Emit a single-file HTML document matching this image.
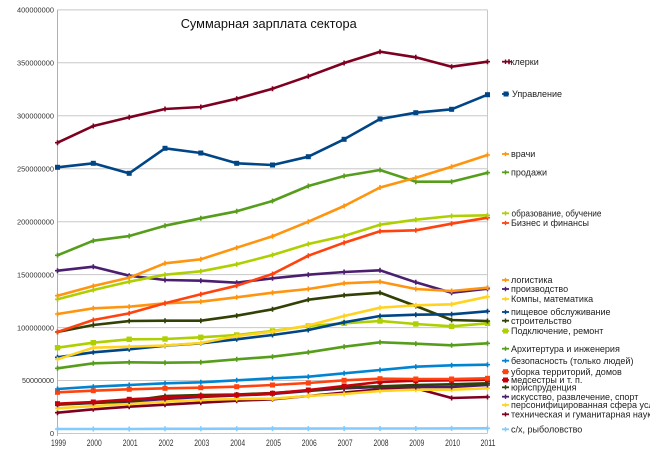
<!DOCTYPE html>
<html>
<head>
<meta charset="utf-8">
<style>
html,body{margin:0;padding:0;background:#fff;}
svg{display:block;}
text{font-family:"Liberation Sans","DejaVu Sans",sans-serif;}
</style>
</head>
<body>
<svg width="650" height="461" viewBox="0 0 650 461" xmlns="http://www.w3.org/2000/svg">
<defs>
<marker id="p7e" markerUnits="userSpaceOnUse" markerWidth="8" markerHeight="8" refX="4" refY="4" overflow="visible"><path d="M1.5,4H6.5M4,1.5V6.5" stroke="#7e0021" stroke-width="1.6"/></marker>
<marker id="s00" markerUnits="userSpaceOnUse" markerWidth="8" markerHeight="8" refX="4" refY="4" overflow="visible"><rect x="1.5" y="1.5" width="5" height="5" fill="#004586"/></marker>
<marker id="p00" markerUnits="userSpaceOnUse" markerWidth="8" markerHeight="8" refX="4" refY="4" overflow="visible"><path d="M1.5,4H6.5M4,1.5V6.5" stroke="#004586" stroke-width="1.6"/></marker>
<marker id="pff9" markerUnits="userSpaceOnUse" markerWidth="8" markerHeight="8" refX="4" refY="4" overflow="visible"><path d="M1.5,4H6.5M4,1.5V6.5" stroke="#ff950e" stroke-width="1.6"/></marker>
<marker id="p57" markerUnits="userSpaceOnUse" markerWidth="8" markerHeight="8" refX="4" refY="4" overflow="visible"><path d="M1.5,4H6.5M4,1.5V6.5" stroke="#579d1c" stroke-width="1.6"/></marker>
<marker id="pae" markerUnits="userSpaceOnUse" markerWidth="8" markerHeight="8" refX="4" refY="4" overflow="visible"><path d="M1.5,4H6.5M4,1.5V6.5" stroke="#aecf00" stroke-width="1.6"/></marker>
<marker id="sae" markerUnits="userSpaceOnUse" markerWidth="8" markerHeight="8" refX="4" refY="4" overflow="visible"><rect x="1.3" y="1.3" width="5.4" height="5.4" fill="#aecf00"/></marker>
<marker id="pff4" markerUnits="userSpaceOnUse" markerWidth="8" markerHeight="8" refX="4" refY="4" overflow="visible"><path d="M1.5,4H6.5M4,1.5V6.5" stroke="#ff420e" stroke-width="1.6"/></marker>
<marker id="sff4" markerUnits="userSpaceOnUse" markerWidth="8" markerHeight="8" refX="4" refY="4" overflow="visible"><rect x="1.5" y="1.5" width="5" height="5" fill="#ff420e"/></marker>
<marker id="p4b" markerUnits="userSpaceOnUse" markerWidth="8" markerHeight="8" refX="4" refY="4" overflow="visible"><path d="M1.5,4H6.5M4,1.5V6.5" stroke="#4b1f6f" stroke-width="1.6"/></marker>
<marker id="pffd" markerUnits="userSpaceOnUse" markerWidth="8" markerHeight="8" refX="4" refY="4" overflow="visible"><path d="M1.5,4H6.5M4,1.5V6.5" stroke="#ffd320" stroke-width="1.6"/></marker>
<marker id="p31" markerUnits="userSpaceOnUse" markerWidth="8" markerHeight="8" refX="4" refY="4" overflow="visible"><path d="M1.5,4H6.5M4,1.5V6.5" stroke="#314004" stroke-width="1.6"/></marker>
<marker id="p08" markerUnits="userSpaceOnUse" markerWidth="8" markerHeight="8" refX="4" refY="4" overflow="visible"><path d="M1.5,4H6.5M4,1.5V6.5" stroke="#0084d1" stroke-width="1.6"/></marker>
<marker id="sc5" markerUnits="userSpaceOnUse" markerWidth="8" markerHeight="8" refX="4" refY="4" overflow="visible"><rect x="1.5" y="1.5" width="5" height="5" fill="#c5000b"/></marker>
<marker id="p83" markerUnits="userSpaceOnUse" markerWidth="8" markerHeight="8" refX="4" refY="4" overflow="visible"><path d="M1.5,4H6.5M4,1.5V6.5" stroke="#83caff" stroke-width="1.6"/></marker>
</defs>

<!-- gridlines -->
<g stroke="#c8c8c8" stroke-width="1">
<line x1="57.5" y1="9.9" x2="487.5" y2="9.9"/>
<line x1="57.5" y1="62.8" x2="487.5" y2="62.8"/>
<line x1="57.5" y1="115.8" x2="487.5" y2="115.8"/>
<line x1="57.5" y1="168.7" x2="487.5" y2="168.7"/>
<line x1="57.5" y1="221.7" x2="487.5" y2="221.7"/>
<line x1="57.5" y1="274.6" x2="487.5" y2="274.6"/>
<line x1="57.5" y1="327.6" x2="487.5" y2="327.6"/>
<line x1="57.5" y1="380.5" x2="487.5" y2="380.5"/>
<line x1="57.5" y1="433.5" x2="487.5" y2="433.5"/>
<line x1="487.5" y1="9.9" x2="487.5" y2="433.5"/>
</g>
<g stroke="#b0b0b0" stroke-width="1">
<line x1="57.5" y1="9.9" x2="57.5" y2="436"/>
</g>

<!-- y labels -->
<g font-size="7.5" fill="#333" text-anchor="end">
<text x="54" y="12.6" textLength="37" lengthAdjust="spacingAndGlyphs">400000000</text>
<text x="54" y="65.5" textLength="37" lengthAdjust="spacingAndGlyphs">350000000</text>
<text x="54" y="118.5" textLength="37" lengthAdjust="spacingAndGlyphs">300000000</text>
<text x="54" y="171.4" textLength="37" lengthAdjust="spacingAndGlyphs">250000000</text>
<text x="54" y="224.4" textLength="37" lengthAdjust="spacingAndGlyphs">200000000</text>
<text x="54" y="277.3" textLength="37" lengthAdjust="spacingAndGlyphs">150000000</text>
<text x="54" y="330.3" textLength="37" lengthAdjust="spacingAndGlyphs">100000000</text>
<text x="54" y="383.2" textLength="32" lengthAdjust="spacingAndGlyphs">50000000</text>
<text x="54" y="436.2">0</text>
</g>

<!-- x labels -->
<g font-size="9" fill="#333" text-anchor="middle">
<text x="58.5" y="446" textLength="15" lengthAdjust="spacingAndGlyphs">1999</text>
<text x="94.3" y="446" textLength="15" lengthAdjust="spacingAndGlyphs">2000</text>
<text x="130.2" y="446" textLength="15" lengthAdjust="spacingAndGlyphs">2001</text>
<text x="166" y="446" textLength="15" lengthAdjust="spacingAndGlyphs">2002</text>
<text x="201.8" y="446" textLength="15" lengthAdjust="spacingAndGlyphs">2003</text>
<text x="237.7" y="446" textLength="15" lengthAdjust="spacingAndGlyphs">2004</text>
<text x="273.5" y="446" textLength="15" lengthAdjust="spacingAndGlyphs">2005</text>
<text x="309.3" y="446" textLength="15" lengthAdjust="spacingAndGlyphs">2006</text>
<text x="345.1" y="446" textLength="15" lengthAdjust="spacingAndGlyphs">2007</text>
<text x="381" y="446" textLength="15" lengthAdjust="spacingAndGlyphs">2008</text>
<text x="416.8" y="446" textLength="15" lengthAdjust="spacingAndGlyphs">2009</text>
<text x="452.6" y="446" textLength="15" lengthAdjust="spacingAndGlyphs">2010</text>
<text x="488" y="446" textLength="15" lengthAdjust="spacingAndGlyphs">2011</text>
</g>

<!-- title -->
<text x="180.7" y="28" font-size="13" fill="#111" textLength="176" lengthAdjust="spacingAndGlyphs">Суммарная зарплата сектора</text>

<!-- series -->
<g fill="none" stroke-width="2.6" stroke-linejoin="round">
<polyline stroke="#83caff" marker-start="url(#p83)" marker-mid="url(#p83)" marker-end="url(#p83)" points="57.5,429 93.3,429 129.2,429 165,428.8 200.8,428.8 236.7,428.7 272.5,428.6 308.3,428.6 344.1,428.5 380,428.5 415.8,428.5 451.6,428.4 487.5,428.3"/>
<polyline stroke="#7e0021" marker-start="url(#p7e)" marker-mid="url(#p7e)" marker-end="url(#p7e)" points="57.5,412.7 93.3,409.3 129.2,406.7 165,404.7 200.8,402.7 236.7,400.7 272.5,399.3 308.3,396 344.1,392.5 380,389.3 415.8,388.3 451.6,398 487.5,397"/>
<polyline stroke="#ffd320" marker-start="url(#pffd)" marker-mid="url(#pffd)" marker-end="url(#pffd)" points="57.5,408.3 93.3,406 129.2,404 165,401.7 200.8,400 236.7,399 272.5,398.7 308.3,396 344.1,394 380,391 415.8,389.7 451.6,389.7 487.5,388.3"/>
<polyline stroke="#4b1f6f" marker-start="url(#p4b)" marker-mid="url(#p4b)" marker-end="url(#p4b)" points="57.5,404.7 93.3,403 129.2,401.5 165,399 200.8,397 236.7,395.5 272.5,394 308.3,391 344.1,388.3 380,387 415.8,387 451.6,387 487.5,385"/>
<polyline stroke="#314004" marker-start="url(#p31)" marker-mid="url(#p31)" marker-end="url(#p31)" points="57.5,404 93.3,403 129.2,401 165,396 200.8,395 236.7,394.5 272.5,393 308.3,390.5 344.1,387.3 380,386.3 415.8,385 451.6,384.3 487.5,383.3"/>
<polyline stroke="#c5000b" marker-start="url(#sc5)" marker-mid="url(#sc5)" marker-end="url(#sc5)" points="57.5,403.7 93.3,402 129.2,399.3 165,397.7 200.8,396 236.7,395 272.5,393.3 308.3,390 344.1,386 380,382 415.8,380.7 451.6,380.3 487.5,379.7"/>
<polyline stroke="#ff420e" marker-start="url(#sff4)" marker-mid="url(#sff4)" marker-end="url(#sff4)" points="57.5,392.3 93.3,390.7 129.2,389.3 165,388.3 200.8,387.7 236.7,386.7 272.5,385 308.3,383 344.1,380.3 380,378.7 415.8,379 451.6,379 487.5,378.3"/>
<polyline stroke="#0084d1" marker-start="url(#p08)" marker-mid="url(#p08)" marker-end="url(#p08)" points="57.5,389 93.3,386.7 129.2,385 165,383.3 200.8,382.3 236.7,380.3 272.5,378.3 308.3,376.7 344.1,373.3 380,370 415.8,366.7 451.6,365.3 487.5,364.7"/>
<polyline stroke="#579d1c" marker-start="url(#p57)" marker-mid="url(#p57)" marker-end="url(#p57)" points="57.5,368.3 93.3,363.3 129.2,362.3 165,362.7 200.8,362.3 236.7,359.3 272.5,356.7 308.3,352.3 344.1,346.7 380,342.3 415.8,343.7 451.6,345.3 487.5,343.3"/>
<polyline stroke="#aecf00" marker-start="url(#sae)" marker-mid="url(#sae)" marker-end="url(#sae)" points="57.5,347.7 93.3,342.7 129.2,339.3 165,339 200.8,337.3 236.7,335 272.5,331 308.3,326 344.1,323.3 380,321 415.8,324 451.6,326.3 487.5,323.3"/>
<polyline stroke="#314004" marker-start="url(#p31)" marker-mid="url(#p31)" marker-end="url(#p31)" points="57.5,332 93.3,325 129.2,321 165,320.7 200.8,320.7 236.7,315.7 272.5,309.3 308.3,299.7 344.1,295.3 380,292.7 415.8,306 451.6,320 487.5,321"/>
<polyline stroke="#004586" marker-start="url(#p00)" marker-mid="url(#p00)" marker-end="url(#p00)" points="57.5,357.3 93.3,352.3 129.2,349.3 165,345.7 200.8,343.3 236.7,339.3 272.5,335 308.3,330 344.1,322.3 380,316 415.8,314.7 451.6,314.3 487.5,311.3"/>
<polyline stroke="#ffd320" marker-start="url(#pffd)" marker-mid="url(#pffd)" marker-end="url(#pffd)" points="57.5,359.3 93.3,347.7 129.2,346.7 165,345.5 200.8,343 236.7,336 272.5,331.7 308.3,325.5 344.1,316 380,307.7 415.8,305.3 451.6,304.3 487.5,296.7"/>
<polyline stroke="#4b1f6f" marker-start="url(#p4b)" marker-mid="url(#p4b)" marker-end="url(#p4b)" points="57.5,270.7 93.3,266.7 129.2,275.7 165,280 200.8,280.7 236.7,282.7 272.5,278.3 308.3,274.7 344.1,272 380,270.3 415.8,282.3 451.6,292.7 487.5,288.7"/>
<polyline stroke="#ff950e" marker-start="url(#pff9)" marker-mid="url(#pff9)" marker-end="url(#pff9)" points="57.5,314 93.3,308.3 129.2,306.7 165,303.3 200.8,301.7 236.7,297.3 272.5,292.7 308.3,289 344.1,283.3 380,281.7 415.8,289 451.6,291 487.5,287.7"/>
<polyline stroke="#ff420e" marker-start="url(#pff4)" marker-mid="url(#pff4)" marker-end="url(#pff4)" points="57.5,332 93.3,320 129.2,313.3 165,303.3 200.8,294.3 236.7,285.7 272.5,274 308.3,255.7 344.1,242.7 380,231.3 415.8,230.3 451.6,223.7 487.5,217.7"/>
<polyline stroke="#aecf00" marker-start="url(#pae)" marker-mid="url(#pae)" marker-end="url(#pae)" points="57.5,299.3 93.3,290 129.2,281.7 165,274.7 200.8,271.3 236.7,264.3 272.5,255 308.3,244 344.1,236 380,224.7 415.8,219.7 451.6,216 487.5,215.3"/>
<polyline stroke="#579d1c" marker-start="url(#p57)" marker-mid="url(#p57)" marker-end="url(#p57)" points="57.5,255.3 93.3,240.7 129.2,236 165,225.7 200.8,218.3 236.7,211.3 272.5,201 308.3,186 344.1,176 380,170 415.8,181.7 451.6,181.7 487.5,172.7"/>
<polyline stroke="#ff950e" marker-start="url(#pff9)" marker-mid="url(#pff9)" marker-end="url(#pff9)" points="57.5,295.7 93.3,286 129.2,277.7 165,263.3 200.8,259.3 236.7,247.7 272.5,236.3 308.3,221.7 344.1,206 380,187.5 415.8,177.7 451.6,166.7 487.5,155"/>
<polyline stroke="#004586" marker-start="url(#s00)" marker-mid="url(#s00)" marker-end="url(#s00)" points="57.5,167.3 93.3,163.3 129.2,173.3 165,148.3 200.8,153 236.7,163.3 272.5,165 308.3,156.7 344.1,139.3 380,119 415.8,112.7 451.6,109.3 487.5,94.7"/>
<polyline stroke="#7e0021" marker-start="url(#p7e)" marker-mid="url(#p7e)" marker-end="url(#p7e)" points="57.5,142.7 93.3,126 129.2,117.3 165,109 200.8,107 236.7,98.7 272.5,88.7 308.3,76.3 344.1,63 380,51.7 415.8,57.3 451.6,66.7 487.5,61.7"/>
</g>

<!-- legend -->
<g stroke-width="1.8" fill="none">
<line x1="502" y1="61.7" x2="509" y2="61.7" stroke="#7e0021" marker-mid="url(#p7e)" marker-end="url(#p7e)"/>
<line x1="502" y1="94" x2="509" y2="94" stroke="#004586"/>
<rect x="503.5" y="91.5" width="5" height="5" fill="#004586" stroke="none"/>
<line x1="502" y1="154" x2="509" y2="154" stroke="#ff950e"/>
<line x1="502" y1="172.3" x2="509" y2="172.3" stroke="#579d1c"/>
<line x1="502" y1="213.3" x2="509" y2="213.3" stroke="#aecf00"/>
<line x1="502" y1="223" x2="509" y2="223" stroke="#ff420e"/>
<line x1="502" y1="280" x2="509" y2="280" stroke="#ff950e"/>
<line x1="502" y1="289" x2="509" y2="289" stroke="#4b1f6f"/>
<line x1="502" y1="299" x2="509" y2="299" stroke="#ffd320"/>
<line x1="502" y1="312" x2="509" y2="312" stroke="#004586"/>
<line x1="502" y1="320.7" x2="509" y2="320.7" stroke="#314004"/>
<line x1="502" y1="331" x2="509" y2="331" stroke="#aecf00"/>
<rect x="503" y="328.5" width="5" height="5" fill="#aecf00" stroke="none"/>
<line x1="502" y1="348.7" x2="509" y2="348.7" stroke="#579d1c"/>
<line x1="502" y1="360.7" x2="509" y2="360.7" stroke="#0084d1"/>
<line x1="502" y1="371.7" x2="509" y2="371.7" stroke="#ff420e"/>
<rect x="503" y="369.2" width="5" height="5" fill="#ff420e" stroke="none"/>
<line x1="502" y1="380" x2="509" y2="380" stroke="#c5000b"/>
<rect x="503" y="377.5" width="5" height="5" fill="#c5000b" stroke="none"/>
<line x1="502" y1="387.3" x2="509" y2="387.3" stroke="#314004"/>
<line x1="502" y1="396.7" x2="509" y2="396.7" stroke="#4b1f6f"/>
<line x1="502" y1="405" x2="509" y2="405" stroke="#ffd320"/>
<line x1="502" y1="414.3" x2="509" y2="414.3" stroke="#7e0021"/>
<line x1="502" y1="429.3" x2="509" y2="429.3" stroke="#83caff"/>
</g>
<g stroke-width="1.4">
<path d="M505.5,59.5V64" stroke="#7e0021"/>
<path d="M505.5,151.8V156.2" stroke="#ff950e"/>
<path d="M505.5,170.1V174.5" stroke="#579d1c"/>
<path d="M505.5,211.1V215.5" stroke="#aecf00"/>
<path d="M505.5,220.8V225.2" stroke="#ff420e"/>
<path d="M505.5,277.8V282.2" stroke="#ff950e"/>
<path d="M505.5,286.8V291.2" stroke="#4b1f6f"/>
<path d="M505.5,296.8V301.2" stroke="#ffd320"/>
<path d="M505.5,309.8V314.2" stroke="#004586"/>
<path d="M505.5,318.5V322.9" stroke="#314004"/>
<path d="M505.5,346.5V350.9" stroke="#579d1c"/>
<path d="M505.5,358.5V362.9" stroke="#0084d1"/>
<path d="M505.5,385.1V389.5" stroke="#314004"/>
<path d="M505.5,394.5V398.9" stroke="#4b1f6f"/>
<path d="M505.5,402.8V407.2" stroke="#ffd320"/>
<path d="M505.5,412.1V416.5" stroke="#7e0021"/>
<path d="M505.5,427.1V431.5" stroke="#83caff"/>
</g>
<g font-size="9" fill="#222">
<text x="510.5" y="64.8">клерки</text>
<text x="512" y="97.1">Управление</text>
<text x="511" y="157.1">врачи</text>
<text x="511" y="175.4">продажи</text>
<text x="511.5" y="216.4" textLength="90" lengthAdjust="spacingAndGlyphs">образование, обучение</text>
<text x="511" y="226.1">Бизнес и финансы</text>
<text x="511" y="283.1">логистика</text>
<text x="511" y="292.1">производство</text>
<text x="511" y="302.1">Компы, математика</text>
<text x="511" y="315.1">пищевое обслуживание</text>
<text x="511" y="323.8">строительство</text>
<text x="511" y="334.1">Подключение, ремонт</text>
<text x="511" y="351.8">Архитертура и инженерия</text>
<text x="511" y="363.8">безопасность (только людей)</text>
<text x="511" y="374.8">уборка территорий, домов</text>
<text x="511" y="383.1">медсестры и т. п.</text>
<text x="511" y="390.4">юриспруденция</text>
<text x="511" y="399.8">искусство, развлечение, спорт</text>
<text x="511" y="408.1">персонифицированная сфера услуг</text>
<text x="511" y="417.4">техническая и гуманитарная наука</text>
<text x="511" y="432.4">с/х, рыболовство</text>
</g>
</svg>
</body>
</html>
